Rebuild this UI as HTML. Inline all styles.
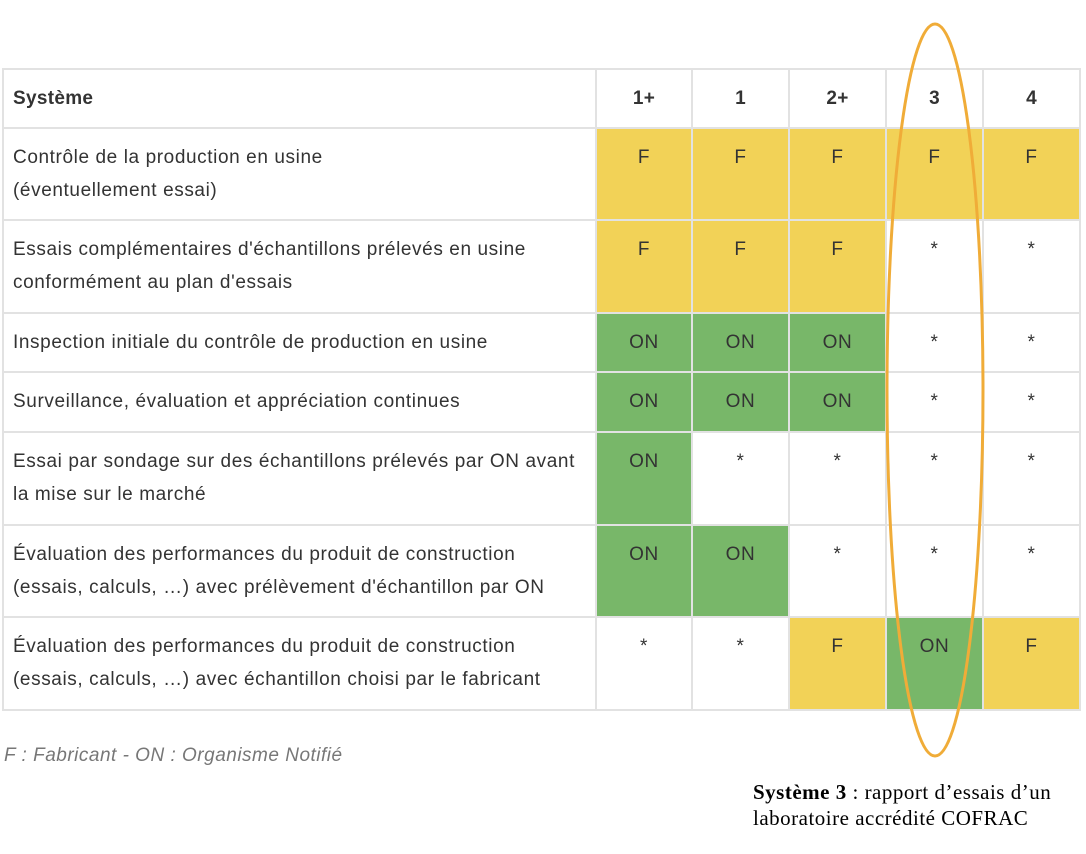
<!DOCTYPE html>
<html><head><meta charset="utf-8"><style>
body{margin:0;width:1086px;height:854px;background:#fff;position:relative;overflow:hidden;font-family:"Liberation Sans",sans-serif;color:#333}
.c{position:absolute;box-sizing:border-box;font-size:19px;letter-spacing:0.6px;line-height:33px;padding:13px 10px 0 10px;white-space:nowrap}
.v{text-align:center;padding-left:0;padding-right:0}
.y{background:#f2d257}.g{background:#78b769}
.h{font-weight:bold;line-height:32px;padding-top:14px;letter-spacing:0.3px}
.ln{position:absolute;background:#e2e2e2}
</style></head><body>
<div id="t"></div>
<div style="position:absolute;left:4px;top:745px;font-size:19px;letter-spacing:0.5px;font-style:italic;color:#777">F : Fabricant - ON : Organisme Notifié</div>
<div style="position:absolute;left:753px;top:779px;font-family:'Liberation Serif',serif;font-size:21px;letter-spacing:0.5px;line-height:26px;color:#000;white-space:nowrap"><b>Système 3</b> : rapport d’essais d’un<br>laboratoire accrédité COFRAC</div>
<svg style="position:absolute;left:0;top:0" width="1086" height="854"><ellipse cx="935" cy="390" rx="48" ry="366" fill="none" stroke="#f0ac38" stroke-width="3"/></svg>
<script>
const X=[3,596,692,789,886,983,1080],Y=[69,128,220,313,372,432,525,617,710];
const rows=[["Système","1+","1","2+","3","4"],
["Contrôle de la production en usine<br>(éventuellement essai)","yF","yF","yF","yF","yF"],
["Essais complémentaires d'échantillons prélevés en usine<br>conformément au plan d'essais","yF","yF","yF","w*","w*"],
["Inspection initiale du contrôle de production en usine","gON","gON","gON","w*","w*"],
["Surveillance, évaluation et appréciation continues","gON","gON","gON","w*","w*"],
["Essai par sondage sur des échantillons prélevés par ON avant<br>la mise sur le marché","gON","w*","w*","w*","w*"],
["Évaluation des performances du produit de construction<br>(essais, calculs, …) avec prélèvement d'échantillon par ON","gON","gON","w*","w*","w*"],
["Évaluation des performances du produit de construction<br>(essais, calculs, …) avec échantillon choisi par le fabricant","w*","w*","yF","gON","yF"]];
let h="";
rows.forEach((r,i)=>{r.forEach((v,j)=>{let cls="c",txt=v;
if(i==0){cls+=" h"+(j?" v":"");}else if(j>0){let k=v[0];txt=v.slice(1);cls+=" v"+(k=="y"?" y":k=="g"?" g":"");}
h+=`<div class="${cls}" style="left:${X[j]}px;top:${Y[i]}px;width:${X[j+1]-X[j]}px;height:${Y[i+1]-Y[i]}px">${txt}</div>`;});});
X.forEach(x=>h+=`<div class="ln" style="left:${x-1}px;top:69px;width:2px;height:642px"></div>`);
Y.forEach(y=>h+=`<div class="ln" style="left:2px;top:${y-1}px;width:1079px;height:2px"></div>`);
document.getElementById("t").innerHTML=h;
</script>
</body></html>
